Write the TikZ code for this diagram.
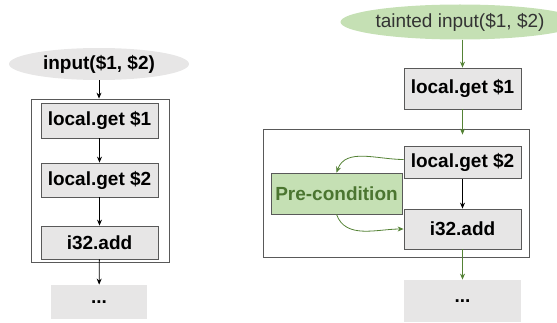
\documentclass[tikz,border=0pt]{standalone}
\usepackage{fontspec}
\setmainfont{Liberation Sans}
\usetikzlibrary{arrows.meta, shapes.geometric}

\definecolor{boxgray}{HTML}{E7E6E6}
\definecolor{edgegray}{HTML}{595959}
\definecolor{taintfill}{HTML}{C5E0B4}
\definecolor{taintline}{HTML}{548235}

\tikzset{
  instr/.style={draw=edgegray, line width=0.8pt, fill=boxgray, minimum width=117pt,
    inner sep=0pt, font=\fontsize{19}{22}\selectfont\bfseries},
  frame/.style={draw=edgegray, line width=0.8pt, inner sep=0pt},
  flow/.style={-{Stealth[length=6pt,width=5pt]}, line width=0.8pt},
  taint/.style={flow, draw=taintline, fill=taintline}
}

\begin{document}
\begin{tikzpicture}[x=1pt, y=1pt]
  \useasboundingbox (0,0) rectangle (557,322);
  % plain run
  \node[frame, minimum width=138pt, minimum height=163pt] (frameL) at (100,141.5) {};
  \node[ellipse, fill=boxgray, minimum width=180pt, minimum height=32pt, inner sep=0pt,
        font=\fontsize{19}{22}\selectfont\bfseries] (inL) at (99,258) {input(\$1, \$2)};
  \node[instr, minimum height=35pt] (get1L) at (99.5,201.5) {local.get \$1};
  \node[instr, minimum height=34pt] (get2L) at (99.5,142) {local.get \$2};
  \node[instr, minimum height=33pt] (addL) at (99.5,79.5) {i32.add};
  \node[instr, draw=none, minimum width=96pt, minimum height=34pt] (restL) at (99,20) {...};
  \draw[flow] (inL) -- (frameL.north -| inL);
  \draw[flow] (get1L) -- (get2L);
  \draw[flow] (get2L) -- (addL);
  \draw[flow] (addL) -- (restL);
  % tainted run
  \node[frame, minimum width=266pt, minimum height=128pt] (frameR) at (396,129) {};
  \node[ellipse, fill=taintfill, minimum width=195pt, minimum height=35pt, inner sep=0pt,
        text=black!80, font=\fontsize{19}{22}\selectfont] (inR) at (460,300) {tainted input(\$1, \$2)};
  \node[instr, minimum height=41pt] (get1R) at (462.5,233.5) {local.get \$1};
  \node[instr, minimum height=32pt] (get2R) at (462.5,159.5) {local.get \$2};
  \node[instr, minimum height=40pt] (addR) at (462.5,93) {i32.add};
  \node[instr, fill=taintfill, text=taintline!90!black, minimum width=131pt, minimum height=41pt] (pre) at (336.5,128.5) {Pre-condition};
  \node[instr, draw=none, minimum height=42pt] (restR) at (462.5,21) {...};
  \draw[taint] (inR.south -| get1R) -- (get1R);
  \draw[taint] (get1R) -- ([yshift=-6pt]frameR.north -| get1R);
  \draw[flow] (get2R) -- (addR);
  \draw[taint, fill=none] ([yshift=3pt]get2R.west) to[out=180, in=70] (pre.north);
  \draw[taint, fill=none] (pre.south) to[out=-70, in=180] (addR.west);
  \draw[taint] (addR) -- (restR);
\end{tikzpicture}
\end{document}
